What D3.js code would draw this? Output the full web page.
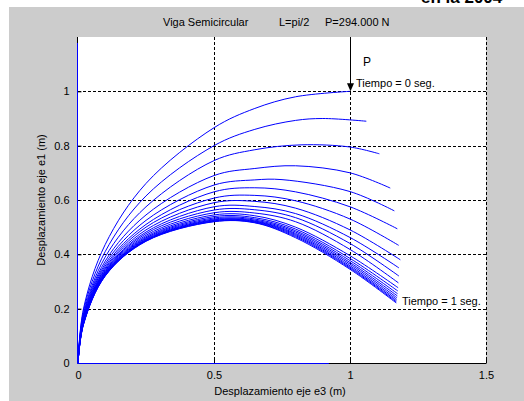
<!DOCTYPE html>
<html>
<head>
<meta charset="utf-8">
<script src="https://cdn.jsdelivr.net/npm/d3@7"></script>
<style>
  body { margin: 0; background: #fff; }
  text { font-family: "Liberation Sans", Arial, sans-serif; fill: #000; }
</style>
</head>
<body>
<svg id="chart"></svg>
<script>
// axis ticks
var xTicks = [0, 0.5, 1, 1.5];
var yTicks = [0, 0.2, 0.4, 0.6, 0.8, 1];
var xGrid = [0.5, 1, 1.5];
var yGrid = [0.2, 0.4, 0.6, 0.8, 1];

// beam shapes, first one is time 0, last one is time 1
var curves = [
  [[0,0],[0.02,0.199],[0.1,0.436],[0.25,0.661],[0.5,0.866],[0.65,0.937],[0.8,0.980],[1.0,1.0]],
  [[0,0],[0.02,0.19],[0.1,0.41],[0.25,0.615],[0.5,0.80],[0.65,0.86],[0.8,0.893],[0.9,0.90],[1.06,0.89]],
  [[0,0],[0.02,0.18],[0.1,0.39],[0.25,0.575],[0.5,0.745],[0.65,0.785],[0.82,0.803],[1.0,0.795],[1.108,0.77]],
  [[0,0],[0.02,0.175],[0.1,0.375],[0.25,0.545],[0.5,0.69],[0.65,0.716],[0.8,0.726],[1.0,0.70],[1.148,0.644]],
  [[0,0],[0.02,0.17],[0.1,0.365],[0.25,0.525],[0.5,0.655],[0.65,0.674],[0.75,0.675],[1.0,0.631],[1.163,0.56]],
  [[0,0],[0.02,0.165],[0.1,0.357],[0.25,0.51],[0.5,0.63],[0.65,0.645],[0.8,0.63],[1.0,0.575],[1.174,0.494]],
  [[0,0],[0.02,0.162],[0.1,0.35],[0.25,0.50],[0.5,0.607],[0.65,0.617],[0.8,0.597],[1.0,0.53],[1.179,0.433]],
  [[0,0],[0.02,0.16],[0.1,0.345],[0.25,0.49],[0.5,0.59],[0.65,0.595],[0.8,0.57],[1.0,0.49],[1.185,0.38]],
  [[0,0],[0.02,0.157],[0.1,0.34],[0.25,0.482],[0.5,0.575],[0.65,0.576],[0.8,0.55],[1.0,0.462],[1.18,0.35]],
  [[0,0],[0.02,0.155],[0.1,0.337],[0.25,0.476],[0.5,0.563],[0.65,0.564],[0.8,0.535],[1.0,0.44],[1.18,0.32]],
  [[0,0],[0.02,0.153],[0.1,0.334],[0.25,0.47],[0.5,0.553],[0.65,0.552],[0.8,0.52],[1.0,0.418],[1.178,0.295]],
  [[0,0],[0.02,0.151],[0.1,0.331],[0.25,0.465],[0.5,0.545],[0.65,0.542],[0.8,0.50],[1.0,0.395],[1.177,0.277]],
  [[0,0],[0.02,0.149],[0.1,0.329],[0.25,0.461],[0.5,0.539],[0.65,0.535],[0.8,0.493],[1.0,0.385],[1.176,0.265]],
  [[0,0],[0.02,0.147],[0.1,0.327],[0.25,0.458],[0.5,0.534],[0.65,0.530],[0.8,0.487],[1.0,0.377],[1.175,0.255]],
  [[0,0],[0.02,0.146],[0.1,0.325],[0.25,0.455],[0.5,0.530],[0.65,0.526],[0.8,0.482],[1.0,0.370],[1.174,0.247]],
  [[0,0],[0.02,0.145],[0.1,0.324],[0.25,0.453],[0.5,0.527],[0.65,0.523],[0.8,0.477],[1.0,0.364],[1.173,0.240]],
  [[0,0],[0.02,0.144],[0.1,0.323],[0.25,0.451],[0.5,0.525],[0.65,0.521],[0.8,0.473],[1.0,0.358],[1.172,0.234]],
  [[0,0],[0.02,0.143],[0.1,0.322],[0.25,0.450],[0.5,0.523],[0.65,0.519],[0.8,0.469],[1.0,0.353],[1.171,0.229]],
  [[0,0],[0.02,0.142],[0.1,0.321],[0.25,0.449],[0.5,0.521],[0.65,0.517],[0.8,0.465],[1.0,0.349],[1.17,0.225]],
  [[0,0],[0.02,0.141],[0.1,0.320],[0.25,0.448],[0.5,0.520],[0.65,0.516],[0.8,0.461],[1.0,0.345],[1.17,0.221]]
];

// blue lines lying on the axes
var baseLines = [
  [[0,0],[0,1.18]],
  [[0,0],[0.924,0]]
];

// load arrow
var loadX = 1, loadTop = 1.2, loadTip = 1;

var W = 524, H = 401;
var svg = d3.select("#chart").attr("width", W).attr("height", H);

svg.append("rect").attr("width", W).attr("height", H).attr("fill", "#fff");
svg.append("rect").attr("x", 9).attr("y", 7).attr("width", W - 9).attr("height", H - 7).attr("fill", "#cccccc");

// page text above the figure, only its lower edge shows
svg.append("text").attr("x", 421).attr("y", 3).style("font-size", "17px").style("font-weight", "bold").text("en la 2004");

var x = d3.scaleLinear().domain([0, 1.5]).range([78, 486]);
var y = d3.scaleLinear().domain([0, 1.2]).range([363, 37]);

svg.append("rect").attr("x", x(0)).attr("y", y(1.2)).attr("width", x(1.5) - x(0)).attr("height", y(0) - y(1.2)).attr("fill", "#fff");

var g = svg.append("g");

// grid
g.selectAll(".vgrid").data(xGrid).enter().append("line")
  .attr("x1", function(d){ return Math.round(x(d)) + 0.5; })
  .attr("x2", function(d){ return Math.round(x(d)) + 0.5; })
  .attr("y1", y(1.2)).attr("y2", y(0))
  .attr("stroke", "#000").attr("stroke-dasharray", "3,2");
g.selectAll(".hgrid").data(yGrid).enter().append("line")
  .attr("y1", function(d){ return Math.round(y(d)) + 0.5; })
  .attr("y2", function(d){ return Math.round(y(d)) + 0.5; })
  .attr("x1", x(0)).attr("x2", x(1.5))
  .attr("stroke", "#000").attr("stroke-dasharray", "3,2");

// axes
var xAxis = d3.axisBottom(x).tickValues(xTicks).tickSize(-4).tickPadding(8).tickFormat(d3.format("~g"));
var yAxis = d3.axisLeft(y).tickValues(yTicks).tickSize(-4).tickPadding(8).tickFormat(d3.format("~g"));

var gx = svg.append("g").attr("transform", "translate(0," + (y(0) + 0.5) + ")").call(xAxis);
var gy = svg.append("g").attr("transform", "translate(" + (x(0) - 0.5) + ",0)").call(yAxis);
[gx, gy].forEach(function(a){
  a.select(".domain").attr("stroke", "#000");
  a.selectAll(".tick line").attr("stroke", "#000");
  a.selectAll("text").style("font-size", "11px").style("font-family", "'Liberation Sans', Arial, sans-serif").attr("fill", "#000");
});
gy.select(".domain").attr("d", "M0," + y(1.2) + "V" + y(0));
gx.select(".domain").attr("d", "M" + x(0) + ",0H" + x(1.5));

// curves
var line = d3.line().x(function(d){ return x(d[0]); }).y(function(d){ return y(d[1]); })
  .curve(d3.curveCatmullRom.alpha(0.5));

svg.append("g").selectAll("path.base").data(baseLines).enter().append("path")
  .attr("d", d3.line().x(function(d){ return x(d[0]) - 0.5; }).y(function(d){ return y(d[1]) + 0.5; }))
  .attr("fill", "none").attr("stroke", "#0000ff").attr("stroke-width", 1);

svg.append("g").selectAll("path.beam").data(curves).enter().append("path")
  .attr("d", line)
  .attr("fill", "none").attr("stroke", "#0000ff").attr("stroke-width", 1);

// load arrow
svg.append("line")
  .attr("x1", Math.round(x(loadX)) + 0.5).attr("x2", Math.round(x(loadX)) + 0.5)
  .attr("y1", y(loadTop)).attr("y2", y(loadTip) - 6)
  .attr("stroke", "#000");
var ax = Math.round(x(loadX)) + 0.5, ay = y(loadTip);
svg.append("path").attr("d", "M" + (ax - 3.5) + "," + (ay - 8) + "L" + (ax + 3.5) + "," + (ay - 8) + "L" + ax + "," + ay + "Z").attr("fill", "#000");

svg.append("text").attr("x", x(loadX) + 13).attr("y", y(loadTip) - 25).style("font-size", "12px").text("P");
svg.append("text").attr("x", x(loadX) + 6).attr("y", y(loadTip) - 4).style("font-size", "11px").text("Tiempo = 0 seg.");
svg.append("text").attr("x", x(1.18) + 3).attr("y", y(0.22) + 2).style("font-size", "11px").text("Tiempo = 1 seg.");

// title and labels
svg.append("text").attr("x", 163).attr("y", 26).style("font-size", "11px").text("Viga Semicircular");
svg.append("text").attr("x", 279).attr("y", 26).style("font-size", "11px").text("L=pi/2");
svg.append("text").attr("x", 325).attr("y", 26).style("font-size", "11px").text("P=294.000 N");

svg.append("text").attr("x", 280).attr("y", 395).attr("text-anchor", "middle").style("font-size", "11px")
  .text("Desplazamiento eje e3 (m)");
svg.append("text").attr("transform", "translate(45,200) rotate(-90)").attr("text-anchor", "middle").style("font-size", "11px")
  .text("Desplazamiento eje e1 (m)");
</script>
</body>
</html>
